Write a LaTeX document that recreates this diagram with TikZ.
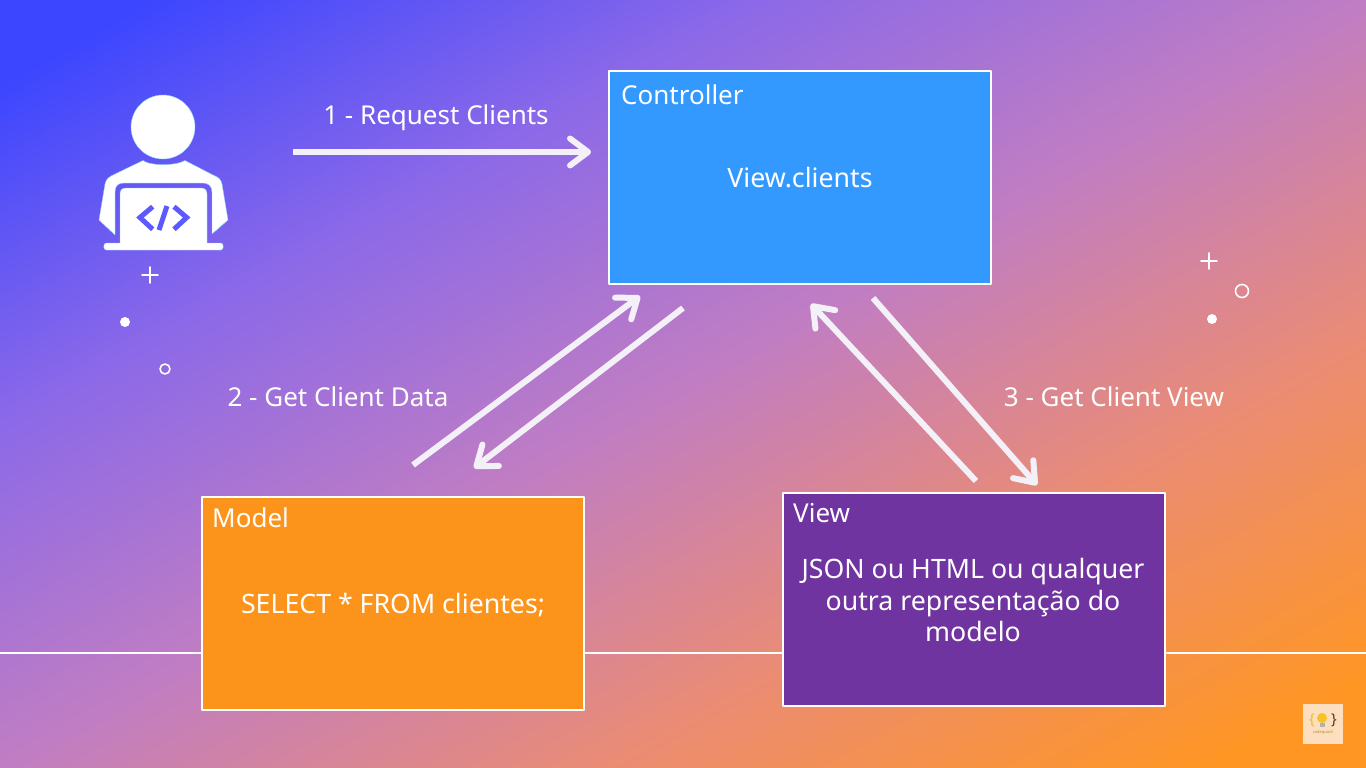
\documentclass[tikz,border=0pt]{standalone}
\usepackage{fontspec}
\setmainfont{Noto Sans}
\usetikzlibrary{arrows.meta}
\definecolor{ctrlblue}{RGB}{51,153,255}
\definecolor{modelorange}{RGB}{252,148,28}
\definecolor{viewpurple}{RGB}{111,52,159}
\definecolor{iconblue}{RGB}{92,90,255}
\definecolor{iconglow}{RGB}{135,205,255}
\definecolor{arrowwhite}{RGB}{244,240,248}
\definecolor{logopeach}{RGB}{253,222,190}
\definecolor{logogold}{RGB}{235,190,50}
\definecolor{logobrown}{RGB}{90,60,30}
\definecolor{logobulb}{RGB}{245,195,35}
\definecolor{logotan}{RGB}{190,140,60}
\definecolor{bgstart}{RGB}{60,70,255}
\definecolor{bgquarter}{RGB}{140,105,232}
\definecolor{bgmiddle}{RGB}{192,125,195}
\definecolor{bgthreeq}{RGB}{235,140,115}
\definecolor{bgend}{RGB}{255,150,35}
\pgfdeclarehorizontalshading{bgshade}{100bp}{
	color(0bp)=(bgstart);
	color(19.6bp)=(bgstart);
	color(34.8bp)=(bgquarter);
	color(50bp)=(bgmiddle);
	color(65.2bp)=(bgthreeq);
	color(80.4bp)=(bgend);
	color(100bp)=(bgend)}
\tikzset{
	boxnode/.style={draw=white, line width=2pt, minimum width=382pt, minimum height=213pt, inner sep=0pt, outer sep=0pt},
	lbl/.style={text=white, font=\fontsize{26}{31}\selectfont, inner sep=0pt, align=center},
	bodylbl/.style={lbl, font=\fontsize{26.7}{31.5}\selectfont},
	flowarrow/.style={draw=arrowwhite, line width=6pt, line cap=butt, -{Straight Barb[round, length=18pt, width=27pt, line width=6pt]}},
	deco/.style={white, line width=1.6pt}
}
\begin{document}
\begin{tikzpicture}[x=1pt, y=-1pt, line join=round, line cap=round, >=stealth]
	\useasboundingbox (0,0) rectangle (1366,768);
	\shade[shading=bgshade, shading angle=-60.7] (0,0) rectangle (1366,768);
	\draw[white, line width=2pt, line cap=butt] (0,652.5)--(1366,652.5);
	% --- boxes
	\node[boxnode, fill=ctrlblue] (controller) at (800,177.5) {};
	\node[boxnode, fill=modelorange] (model) at (393,603.5) {};
	\node[boxnode, fill=viewpurple] (view) at (973.5,599.5) {};
	\node[lbl, anchor=west] (controllertitle) at (621,95) {Controller};
	\node[lbl, anchor=west] (modeltitle) at (212,518) {Model};
	\node[lbl, anchor=west] (viewtitle) at (793,513.5) {View};
	\node[bodylbl] (controllertext) at (800,178) {View.clients};
	\node[bodylbl] (modeltext) at (393,605) {SELECT * FROM clientes;};
	\node[bodylbl] (viewtext) at (973,600) {JSON ou HTML ou qualquer\\outra representação do\\modelo};
	% --- labels
	\node[lbl] (requestlabel) at (436,118) {1 - Request Clients};
	\node[lbl] (datalabel) at (338,396.5) {2 - Get Client Data};
	\node[lbl] (viewlabel) at (1114,396.5) {3 - Get Client View};
	% --- arrows
	\coordinate (usertail) at (293,152);
	\coordinate (userhead) at (591,152);
	\coordinate (modeltail) at (413,465);
	\coordinate (modelhead) at (640,296);
	\coordinate (ctrltail) at (683,308);
	\coordinate (ctrlhead) at (474,468);
	\coordinate (viewtail) at (976,481);
	\coordinate (viewhead) at (811,304);
	\coordinate (ctrltailb) at (873,298);
	\coordinate (ctrlheadb) at (1037,485);
	\draw[flowarrow] (usertail)--(userhead);
	\draw[flowarrow] (modeltail)--(modelhead);
	\draw[flowarrow] (ctrltail)--(ctrlhead);
	\draw[flowarrow] (viewtail)--(viewhead);
	\draw[flowarrow] (ctrltailb)--(ctrlheadb);
	% --- user icon
	\fill[white, draw=iconglow] (163,127) circle(32);
	\fill[white, draw=iconglow] (143,160.5) .. controls (150,166) and (176,166) .. (185,160.5)
		-- (213,175) .. controls (218,177) and (221,179) .. (222,184) -- (228,220) -- (212,234)
		-- (212,192) .. controls (212,186) and (208,183) .. (203,183) -- (124,183)
		.. controls (118,183) and (115,186) .. (115,192) -- (115,235) -- (99,220) -- (105,184)
		.. controls (106,179) and (109,177) .. (113,175) -- cycle;
	\fill[white, draw=iconglow] (120,243) -- (120,194) .. controls (120,190) and (122,188) .. (126,188)
		-- (201,188) .. controls (205,188) and (207,190) .. (207,194) -- (207,243) -- (221,243)
		.. controls (224,243) and (224,250) .. (221,250) -- (106,250) .. controls (103,250) and (103,243) .. (106,243) -- cycle;
	\draw[iconblue, line width=5pt, line cap=butt, line join=miter] (152.7,206.7)--(140,217.5)--(152.7,229.3);
	\draw[iconblue, line width=5pt, line cap=butt, line join=miter] (174,206.7)--(186.7,217.5)--(174,229.3);
	\draw[iconblue, line width=5pt, line cap=butt] (167,206)--(159,230);
	% --- decorations
	\draw[deco] (142,275)--(158,275) (150,267)--(150,283);
	\fill[white] (125,322) circle(5);
	\draw[deco] (165,369) circle(5);
	\draw[deco] (1201,261)--(1217,261) (1209,253)--(1209,269);
	\draw[deco] (1242,291) circle(6.5);
	\fill[white] (1212,319) circle(5);
	% --- logo
	\fill[logopeach] (1303,704) rectangle (1343,744);
	\node[text=logogold, font=\fontsize{15}{15}\selectfont\bfseries, inner sep=0pt] (bracel) at (1312,720) {\{};
	\node[text=logobrown, font=\fontsize{15}{15}\selectfont\bfseries, inner sep=0pt] (bracer) at (1334,720) {\}};
	\fill[logobulb] (1322,718) circle(5);
	\fill[gray!60] (1320,723) rectangle (1325,727);
	\node[text=logotan, font=\fontsize{4}{4}\selectfont, inner sep=0pt] (logotext) at (1323,732) {codequack};
\end{tikzpicture}
\end{document}
